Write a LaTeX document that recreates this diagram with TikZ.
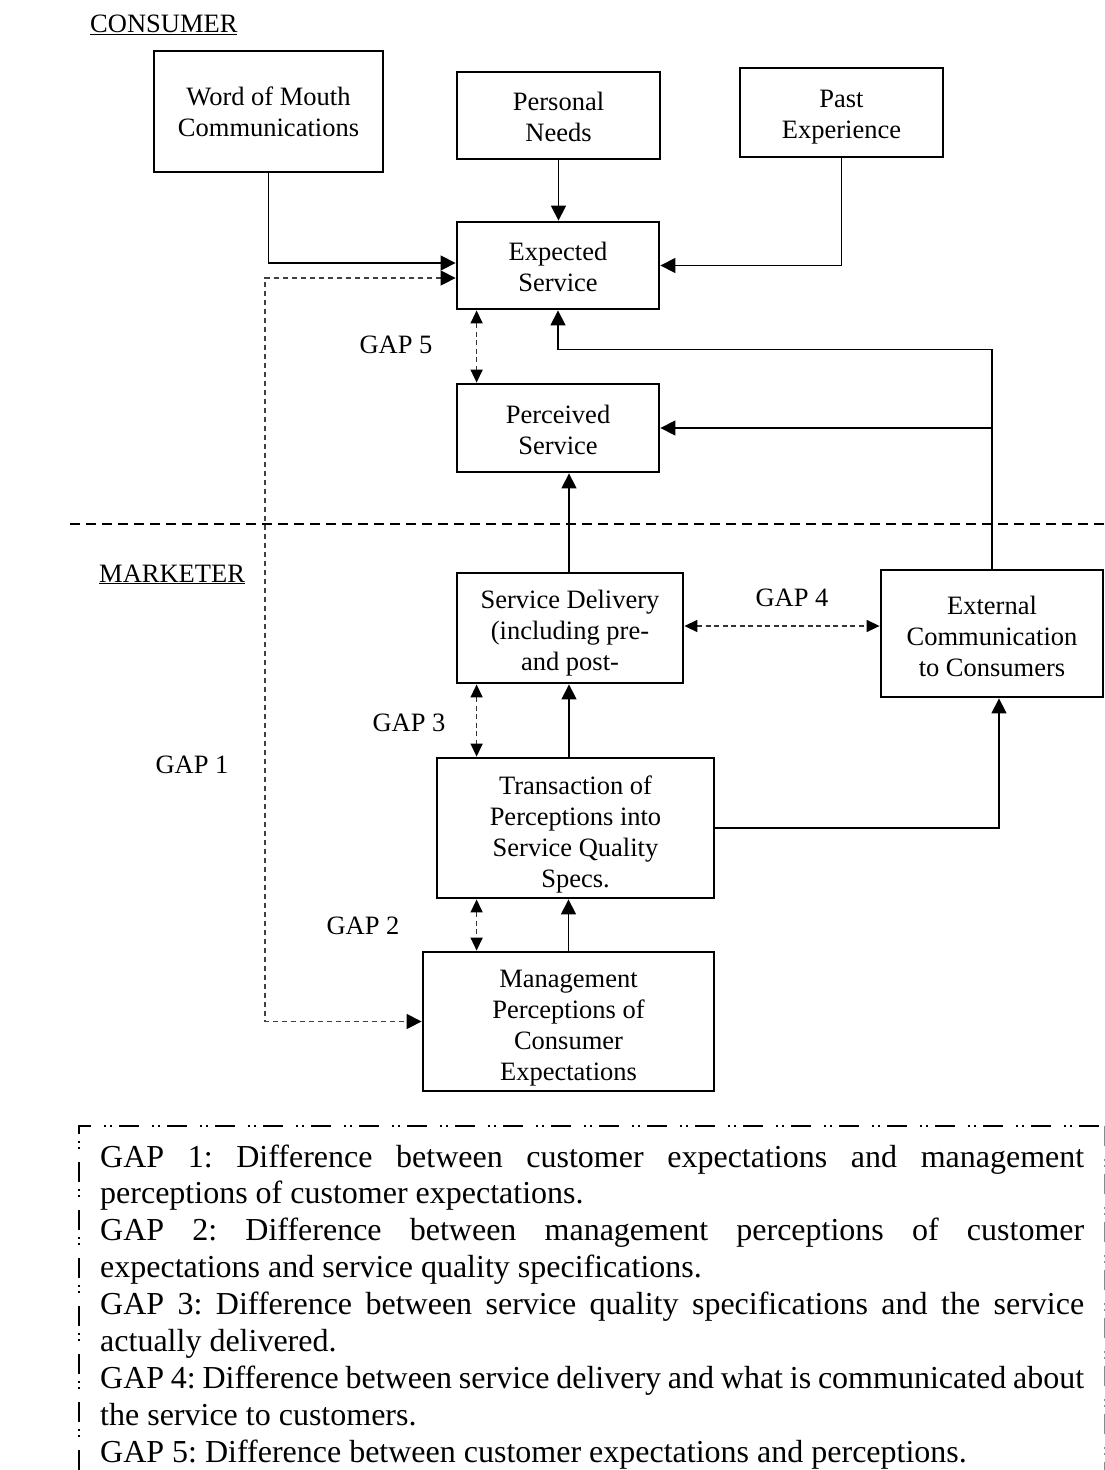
\documentclass[tikz,border=0pt]{standalone}
\usepackage{fontspec}
\setmainfont{Liberation Serif}
\usetikzlibrary{arrows.meta}
\tikzset{
  box/.style={draw, line width=2.8pt, inner sep=0pt},
  boxtext/.style={inner sep=0pt, align=center, font=\fontsize{26.5}{31}\selectfont},
  lbl/.style={inner sep=0pt, font=\fontsize{26.5}{31}\selectfont},
  conn/.style={line width=1.3pt, -{Triangle[length=15pt,width=15pt]}},
  gaparrow/.style={line width=1.5pt, draw=black!80, dash pattern=on 5pt off 3.5pt,
    {Triangle[length=13pt,width=12pt,color=black]}-{Triangle[length=13pt,width=12pt,color=black]}},
  gapone/.style={line width=1.3pt, draw=black!75, dash pattern=on 5pt off 4pt,
    {Triangle[length=15pt,width=15pt,color=black]}-{Triangle[length=15pt,width=15pt,color=black]}},
  sepline/.style={line width=1.5pt, dash pattern=on 10pt off 6pt},
  legendborder/.style={line width=2.2pt, dash pattern=on 20pt off 13pt on 2pt off 4pt on 2pt off 7pt},
  legendright/.style={line width=0.9pt, draw=black!45, dash pattern=on 20pt off 13pt on 2pt off 4pt on 2pt off 7pt}
}
\begin{document}
\begin{tikzpicture}[x=1pt,y=-1pt]
\useasboundingbox (0,0) rectangle (1105,1470);

% section labels
\node[lbl, anchor=base west] (lcons) at (90,32.5) {\underline{CONSUMER}};
\node[lbl, anchor=base west] (lmark) at (99,582) {\underline{MARKETER}};

% separator
\draw[sepline] (70,524) -- (1105,524);

% boxes (frames)
\node[box, minimum width=229pt, minimum height=121pt] (wom) at (268.5,111.5) {};
\node[box, minimum width=203pt, minimum height=87pt] (pn) at (558.5,115.5) {};
\node[box, minimum width=203pt, minimum height=89pt] (pe) at (841.5,112.5) {};
\node[box, minimum width=202pt, minimum height=87pt] (es) at (558,265.5) {};
\node[box, minimum width=202pt, minimum height=88pt] (ps) at (558,428) {};
\node[box, minimum width=226pt, minimum height=110pt] (sd) at (570,628) {};
\node[box, minimum width=222pt, minimum height=127pt] (ec) at (992,633.5) {};
\node[box, minimum width=277pt, minimum height=140pt] (tr) at (575.5,828) {};
\node[box, minimum width=291pt, minimum height=139pt] (mp) at (568.5,1021.5) {};

% box texts
\node[boxtext] (womt) at ([yshift=-0.5pt]wom.center) {Word of Mouth\\Communications};
\node[boxtext] (pnt) at ([yshift=-1pt]pn.center) {Personal\\Needs};
\node[boxtext] (pet) at ([yshift=-5pt]pe.center) {Past\\Experience};
\node[boxtext] (est) at ([yshift=-1.5pt]es.center) {Expected\\Service};
\node[boxtext] (pst) at ([yshift=-1.5pt]ps.center) {Perceived\\Service};
\node[boxtext] (sdt) at ([yshift=-5.5pt]sd.center) {Service Delivery\\(including pre-\\and post-};
\node[boxtext] (ect) at ([yshift=-2.5pt]ec.center) {External\\Communication\\to Consumers};
\node[boxtext] (trt) at ([yshift=-6.5pt]tr.center) {Transaction of\\Perceptions into\\Service Quality\\Specs.};
\node[boxtext] (mpt) at ([yshift=-7pt]mp.center) {Management\\Perceptions of\\Consumer\\Expectations};

% solid connectors
\draw[conn] (wom.south) |- ([yshift=2.5pt]es.west);
\draw[conn] (pn.south) -- (pn.south |- es.north);
\draw[conn] (pe.south) |- (es.east);
\draw[conn] (ec.north) |- ([yshift=-39pt]es.south) -- (es.south);
\draw[conn] (ec.north |- ps.east) -- (ps.east);
\draw[conn] ([xshift=-1pt]sd.north) -- ([xshift=-1pt]sd.north |- ps.south);
\draw[conn] ([xshift=-1pt]sd.south |- tr.north) -- ([xshift=-1pt]sd.south);
\draw[conn] (tr.east) -| ([xshift=7pt]ec.south);
\draw[conn] (mp.north) -- (mp.north |- tr.south);

% GAP 1
\coordinate (g1) at (265,278);
\draw[gapone] ([yshift=-12.5pt]es.west) -- (g1) |- (mp.west);

% gap arrows
\draw[gaparrow] ([xshift=21pt]es.south west) -- ([xshift=21pt]ps.north west);
\draw[gaparrow] ([yshift=2pt]sd.east) -- ([yshift=2pt]sd.east -| ec.west);
\draw[gaparrow] ([xshift=21pt]sd.south west) -- ([xshift=21pt]sd.south west |- tr.north);
\draw[gaparrow] ([xshift=41pt]tr.south west) -- ([xshift=41pt]tr.south west |- mp.north);

% gap labels
\node[lbl] (gl5) at (396,345) {GAP 5};
\node[lbl] (gl4) at (792,598) {GAP 4};
\node[lbl] (gl3) at (409,723) {GAP 3};
\node[lbl] (gl2) at (363,926) {GAP 2};
\node[lbl] (gl1) at (192,765) {GAP 1};

% legend border
\draw[legendborder] (79,1470) -- (79,1126) -- (1104,1126);
\draw[legendright] (1104,1126) -- (1104,1470);

% legend text
\node[anchor=base west, inner sep=0pt, text width=984pt, align=justify,
      font=\fontsize{32}{36.9}\selectfont] (legend) at (100,1167)
{\frenchspacing\parindent=0pt\tolerance=10000\spaceskip=0.25em plus 1em minus 0.06em
GAP 1: Difference between customer expectations and management\linebreak perceptions of customer expectations.\par
GAP 2: Difference between management perceptions of customer\linebreak expectations and service quality specifications.\par
GAP 3: Difference between service quality specifications and the service\linebreak actually delivered.\par
GAP 4: Difference between service delivery and what is communicated about\linebreak the service to customers.\par
GAP 5: Difference between customer expectations and perceptions.};
\end{tikzpicture}
\end{document}
